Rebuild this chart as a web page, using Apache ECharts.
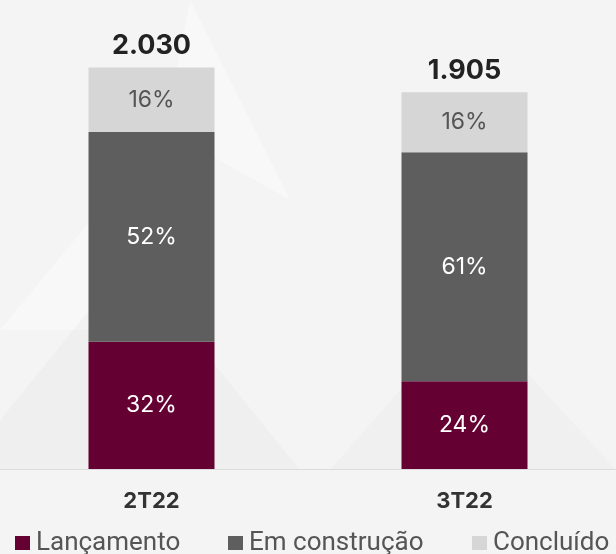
<!DOCTYPE html>
<html>
<head>
<meta charset="utf-8">
<script src="https://cdn.jsdelivr.net/npm/echarts@6/dist/echarts.min.js"></script>
<style>
  html, body { margin: 0; padding: 0; background: #f4f4f4; }
  #panel { width: 616px; height: 554px; }
</style>
</head>
<body>
<div id="panel"></div>
<script>
var categories = ['2T22', '3T22'];
var totals = [2030, 1905];
var totalLabels = ['2.030', '1.905'];
var lancamento = [644, 444];
var emConstrucao = [1060, 1158];
var concluido = [326, 303];
var lancamentoPct = ['32%', '24%'];
var emConstrucaoPct = ['52%', '61%'];
var concluidoPct = ['16%', '16%'];

var font = 'Inter';

function pctLabel(labels, color) {
    return {
        show: true,
        position: 'inside',
        fontFamily: font,
        fontSize: 23,
        color: color,
        formatter: function (p) { return labels[p.dataIndex]; }
    };
}

function legendAt(left, name) {
    return {
        left: left, top: 525, itemWidth: 15, itemHeight: 14, itemGap: 8, icon: 'rect',
        textStyle: { fontFamily: 'Roboto', fontSize: 26, color: '#555', padding: [0, 0, 0, 1] },
        data: [name]
    };
}

var myChart = echarts.init(document.getElementById('panel'));
myChart.setOption({
    backgroundColor: '#f4f4f4',
    animation: false,
    graphic: [
        { type: 'polygon', silent: true, z: -10, shape: { points: [[0, 330], [95, 215], [190, 330]] }, style: { fill: 'rgba(255,255,255,0.35)' } },
        { type: 'polygon', silent: true, z: -10, shape: { points: [[-40, 470], [130, 260], [300, 470]] }, style: { fill: 'rgba(228,228,228,0.3)' } },
        { type: 'polygon', silent: true, z: -10, shape: { points: [[330, 470], [470, 310], [616, 470]] }, style: { fill: 'rgba(232,232,232,0.35)' } },
        { type: 'polygon', silent: true, z: -10, shape: { points: [[165, 130], [190, 0], [290, 200]] }, style: { fill: 'rgba(255,255,255,0.35)' } }
    ],
    grid: { left: -5, right: -5, top: 34, bottom: 85, outerBoundsMode: 'none' },
    legend: [
        legendAt(10, 'Lançamento'),
        legendAt(223, 'Em construção'),
        legendAt(467, 'Concluído')
    ],
    xAxis: {
        type: 'category',
        data: categories,
        axisLine: { lineStyle: { color: '#dcdcdc', width: 1 } },
        axisTick: { show: false },
        axisLabel: { margin: 21, fontFamily: font, fontSize: 22, fontWeight: 'bold', color: '#333' }
    },
    yAxis: {
        type: 'value',
        min: 0,
        max: 2200,
        show: false
    },
    series: [
        { name: 'Lançamento', type: 'bar', stack: 'total', barWidth: 126, data: lancamento,
          itemStyle: { color: '#650033' }, label: pctLabel(lancamentoPct, '#fff') },
        { name: 'Em construção', type: 'bar', stack: 'total', data: emConstrucao,
          itemStyle: { color: '#5e5e5e' }, label: pctLabel(emConstrucaoPct, '#fff') },
        { name: 'Concluído', type: 'bar', stack: 'total', data: concluido,
          itemStyle: { color: '#d6d6d6' }, label: pctLabel(concluidoPct, '#555') },
        { name: 'Total', type: 'bar', stack: 'total', data: [0, 0],
          itemStyle: { color: 'transparent' },
          label: { show: true, position: 'top', distance: 8, fontFamily: font, fontSize: 27,
                   fontWeight: 'bold', color: '#222',
                   formatter: function (p) { return totalLabels[p.dataIndex]; } } }
    ]
});
</script>
</body>
</html>
